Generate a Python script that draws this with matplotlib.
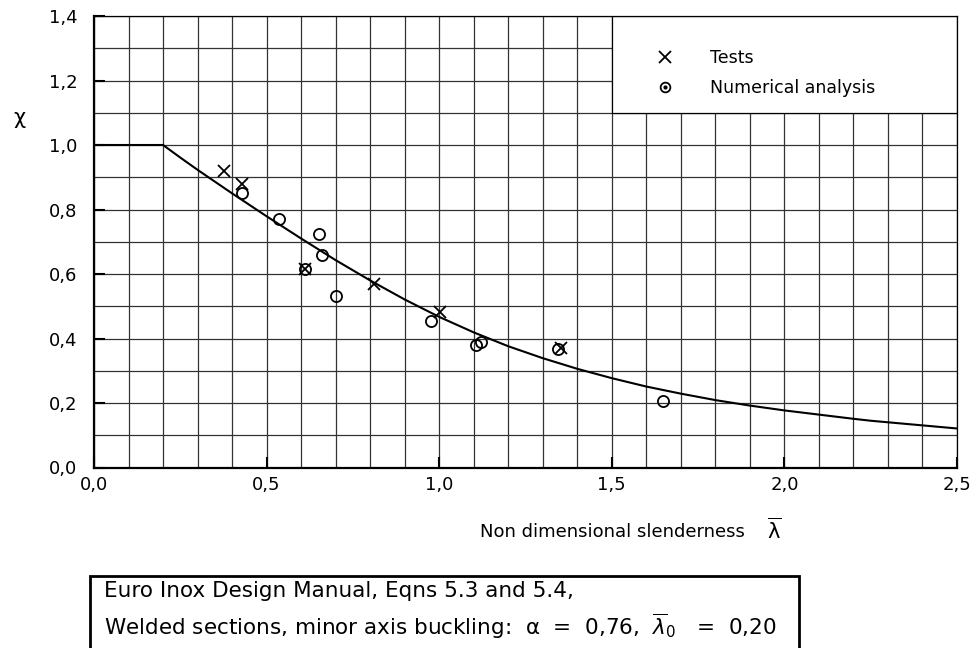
import matplotlib
matplotlib.use("Agg")
import matplotlib.pyplot as plt
from matplotlib.patches import Rectangle
from matplotlib.lines import Line2D
import numpy as np

# design curve
curve_lam = [0.0, 0.2, 0.25, 0.3, 0.4, 0.5, 0.6, 0.7, 0.8, 0.9, 1.0, 1.1, 1.2, 1.3,
             1.4, 1.5, 1.6, 1.7, 1.8, 1.9, 2.0, 2.2, 2.25, 2.5]
curve_chi = [1.0, 1.0, 0.961, 0.923, 0.850, 0.779, 0.710, 0.643, 0.580, 0.521, 0.467, 0.419,
             0.376, 0.339, 0.306, 0.277, 0.251, 0.229, 0.209, 0.192, 0.177, 0.151, 0.145, 0.121]

# tests
test_lam = [0.377, 0.430, 0.612, 0.812, 1.001, 1.354]
test_chi = [0.920, 0.878, 0.616, 0.570, 0.481, 0.371]

# numerical analysis
num_lam = [0.430, 0.535, 0.651, 0.661, 0.612, 0.702, 0.975, 1.107, 1.120, 1.343, 1.648]
num_chi = [0.852, 0.771, 0.725, 0.658, 0.616, 0.533, 0.455, 0.380, 0.390, 0.367, 0.205]

xticks = [0.0, 0.5, 1.0, 1.5, 2.0, 2.5]
yticks = [0.0, 0.2, 0.4, 0.6, 0.8, 1.0, 1.2, 1.4]

plt.rcParams['font.family'] = ['DejaVu Sans']

fig = plt.figure(figsize=(9.76, 6.48), dpi=100)
ax = fig.add_axes([94/976, 1-467.5/648, 863/976, 451.5/648])

ax.set_xlim(0, 2.5)
ax.set_ylim(0, 1.4)
ax.set_xticks(xticks)
ax.set_yticks(yticks)
ax.set_xticklabels([f"{v:.1f}".replace('.', ',') for v in xticks], fontsize=13)
ax.set_yticklabels([f"{v:.1f}".replace('.', ',') for v in yticks], fontsize=13)
ax.set_xticks(np.arange(0, 2.51, 0.1), minor=True)
ax.set_yticks(np.arange(0, 1.41, 0.1), minor=True)
ax.tick_params(which='major', direction='in', length=8, width=1.5, pad=6)
ax.tick_params(axis='y', which='major', pad=12)
ax.tick_params(which='minor', length=0)
ax.set_axisbelow(True)
ax.grid(which='both', color='0.2', linewidth=0.9)

for s in ['left', 'bottom']:
    ax.spines[s].set_linewidth(1.6)
for s in ['top', 'right']:
    ax.spines[s].set_linewidth(0.9)

# legend area blanks the grid
ax.add_patch(Rectangle((1.5, 1.1), 1.0, 0.3, facecolor='white', edgecolor='black',
                       linewidth=0.9, zorder=1))

ax.plot(curve_lam, curve_chi, color='black', linewidth=1.5, zorder=3)
ax.plot(test_lam, test_chi, linestyle='none', marker='x', color='black',
        markersize=8, markeredgewidth=1.3, zorder=4)
ax.plot(num_lam, num_chi, linestyle='none', marker='o', markerfacecolor='none',
        markeredgecolor='black', markersize=8, markeredgewidth=1.3, zorder=4)

h_test = Line2D([], [], linestyle='none', marker='x', color='black',
                markersize=8, markeredgewidth=1.3)
h_circ = Line2D([], [], linestyle='none', marker='o', markerfacecolor='none',
                markeredgecolor='black', markersize=7, markeredgewidth=1.3)
h_dot = Line2D([], [], linestyle='none', marker='o', color='black', markersize=2)
ax.legend([h_test, (h_circ, h_dot)], ['Tests', 'Numerical analysis'],
          loc='upper left', bbox_to_anchor=(0.652, 0.926), frameon=False,
          fontsize=12.5, handlelength=1.0, handletextpad=2.05, borderpad=0,
          borderaxespad=0, labelspacing=0.67)

fig.text(19/976, 1-118/648, 'χ', fontsize=15, ha='center', va='center')
fig.text(745/976, 1-532/648, 'Non dimensional slenderness', fontsize=13,
         ha='right', va='center')
fig.text(774/976, 1-530/648, r'$\overline{\mathrm{\lambda}}$', fontsize=15,
         ha='center', va='center')

fig.patches.append(Rectangle((90/976, -0.02), 709/976, 0.02+1-576/648,
                             transform=fig.transFigure, facecolor='white',
                             edgecolor='black', linewidth=2, zorder=0))
fig.text(104/976, 1-591/648, 'Euro Inox Design Manual, Eqns 5.3 and 5.4,',
         fontsize=15.5, ha='left', va='center')
fig.text(104/976, 1-626/648,
         r'Welded sections, minor axis buckling:  α  =  0,76,  $\overline{\lambda}_0$   =  0,20',
         fontsize=15.5, ha='left', va='center')

fig.savefig('out.png', dpi=100)
